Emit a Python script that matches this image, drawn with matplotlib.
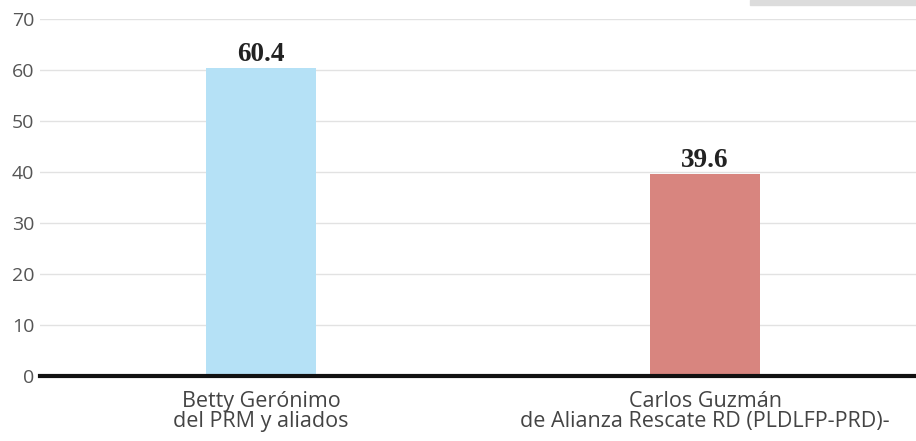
import matplotlib.pyplot as plt
from matplotlib.patches import Rectangle

candidates = ["Betty Gerónimo\ndel PRM y aliados",
              "Carlos Guzmán\nde Alianza Rescate RD (PLDLFP-PRD)-"]
votes = [60.4, 39.6]
colors = ["#b5e1f6", "#d8857f"]
yticks = [0, 10, 20, 30, 40, 50, 60, 70]

plt.rcParams['font.family'] = ['Open Sans', 'DejaVu Sans']

fig = plt.figure(figsize=(9.16, 4.41), dpi=100)
ax = fig.add_axes([40/916, 65/441, 876/916, (376-19)/441])

x = range(len(votes))
ax.bar(x, votes, width=0.248, color=colors, zorder=2)
for xi, v in zip(x, votes):
    ax.text(xi, v + 1.3, f"{v:.1f}", ha="center", va="baseline",
            fontsize=19.5, fontweight="bold", family="Liberation Serif", color="#222222")

ax.set_xlim(-0.498, 1.475)
ax.set_ylim(0, 70)
ax.set_yticks(yticks)
ax.set_yticklabels([str(t) for t in yticks], fontsize=14, color="#555555")
ax.set_xticks(list(x))
ax.set_xticklabels(candidates, fontsize=15.5, color="#444444", linespacing=0.95)
ax.tick_params(axis="y", length=0, pad=4)
ax.tick_params(axis="x", length=0, pad=10.5)
ax.grid(axis="y", color="#e2e2e2", linewidth=1, zorder=0)
for s in ["top", "right", "left"]:
    ax.spines[s].set_visible(False)
ax.spines["bottom"].set_linewidth(3)
ax.spines["bottom"].set_color("#111111")
ax.spines["bottom"].set_zorder(3)

fig.patches.append(Rectangle((750/916, 436/441), 166/916, 5/441,
                             transform=fig.transFigure, color="#dcdcdc"))

fig.savefig("out.png", dpi=100)
